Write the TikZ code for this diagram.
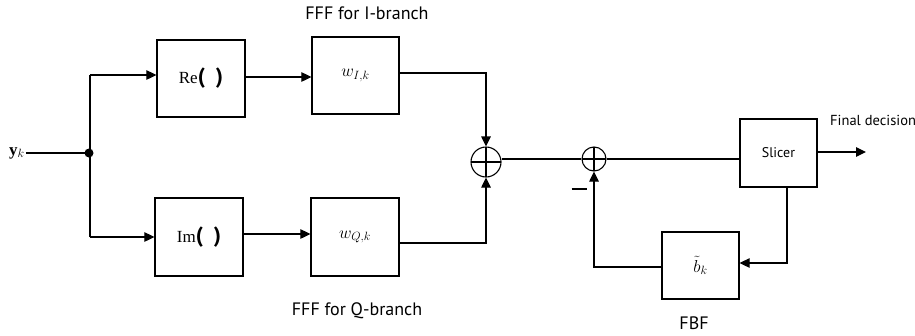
\documentclass[tikz,border=0pt]{standalone}
\usepackage{fontspec}
\setmainfont{Liberation Serif}
\newfontfamily\labelfont{PT Sans}
\usepackage{tikz}
\usetikzlibrary{arrows.meta,positioning}
\newcommand{\paren}{{\labelfont\bfseries\fontsize{22}{22}\selectfont(\,\,\,)}}
\tikzset{
  block/.style={rectangle,draw=black,line width=1.2pt,minimum width=#1,align=center,font=\fontsize{17}{19}\selectfont},
  block/.default=88pt,
  sumnode/.style={circle,draw=black,line width=1.1pt,minimum size=#1,inner sep=0pt,
    path picture={\draw[line width=1.1pt] (path picture bounding box.north) -- (path picture bounding box.south)
      (path picture bounding box.west) -- (path picture bounding box.east);}},
  sumnode/.default=30pt,
  caption/.style={font=\labelfont\fontsize{18}{20}\selectfont,inner sep=1pt},
  arrow/.style={-{Triangle[length=10pt,width=9.5pt]},line width=1.1pt},
  wire/.style={line width=1.1pt}
}

\begin{document}
\begin{tikzpicture}[x=1pt,y=-1pt]
\useasboundingbox (0,0) rectangle (915,335);
% input and splitter
\node[font=\fontsize{17}{19}\selectfont,inner sep=1pt] (yk) at (17,153) {$\mathbf{y}_k$};
\fill (89,153) circle (4.5pt) coordinate (split);
\coordinate (splitup) at (90,75);
\coordinate (splitdn) at (90,237);
% I branch
\node[block,minimum height=77pt] (re) at (201,78.5) {Re\paren};
\node[block=87pt,minimum height=77pt] (wi) at (355.5,75.5) {$w_{I,k}$};
% Q branch
\node[block,minimum height=78pt] (im) at (199,237) {Im\paren};
\node[block=88pt,minimum height=78pt] (wq) at (355,237) {$w_{Q,k}$};
% sums
\node[sumnode=30pt] (sum1) at (486,162) {};
\node[sumnode=24pt] (sum2) at (594,159) {};
% slicer and feedback filter
\node[block=77pt,minimum height=68pt,font=\labelfont\fontsize{14}{16}\selectfont] (slicer) at (778.5,153) {Slicer};
\node[block=77pt,minimum height=67pt] (fbf) at (700.5,265.5) {$\tilde{b}_k$};
\coordinate (out) at (866,152);
% labels
\node[caption] (fffi) at (367,13) {FFF for I-branch};
\node[caption] (fffq) at (357,311) {FFF for Q-branch};
\node[caption] (fbflabel) at (694,323) {FBF};
\node[caption,anchor=west,font=\labelfont\fontsize{14.5}{16}\selectfont] (final) at (829,120) {Final decision};
\node[inner sep=0pt] (minus) at (579,189) {\rule{15pt}{1.6pt}};

% connectors
\draw[wire] (yk.east) -- (split);
\draw[wire] (splitdn) -- (splitup);
\draw[arrow] (splitup) -- (splitup -| re.west);
\draw[arrow] (splitdn) -- (splitdn -| im.west);
\draw[arrow] (re.east |- 77,77) -- (wi.west |- 77,77);
\draw[arrow] (im.east |- 234,234) -- (wq.west |- 234,234);
\draw[arrow] (wi.east |- 73,73) -| (sum1.north);
\draw[arrow] (wq.east |- 243,243) -| (sum1.south);
\draw[wire] (sum2.west) -- (sum2.west -| sum1.east);
\draw[wire] (sum2.east) -- (slicer.west |- sum2.east);
\draw[arrow] (slicer.east |- out) -- (out);
\draw[arrow] (slicer.south -| 787,0) |- (fbf.east |- 263,263);
\draw[arrow] (fbf.west |- 267,267) -| (sum2.south);
\end{tikzpicture}
\end{document}
